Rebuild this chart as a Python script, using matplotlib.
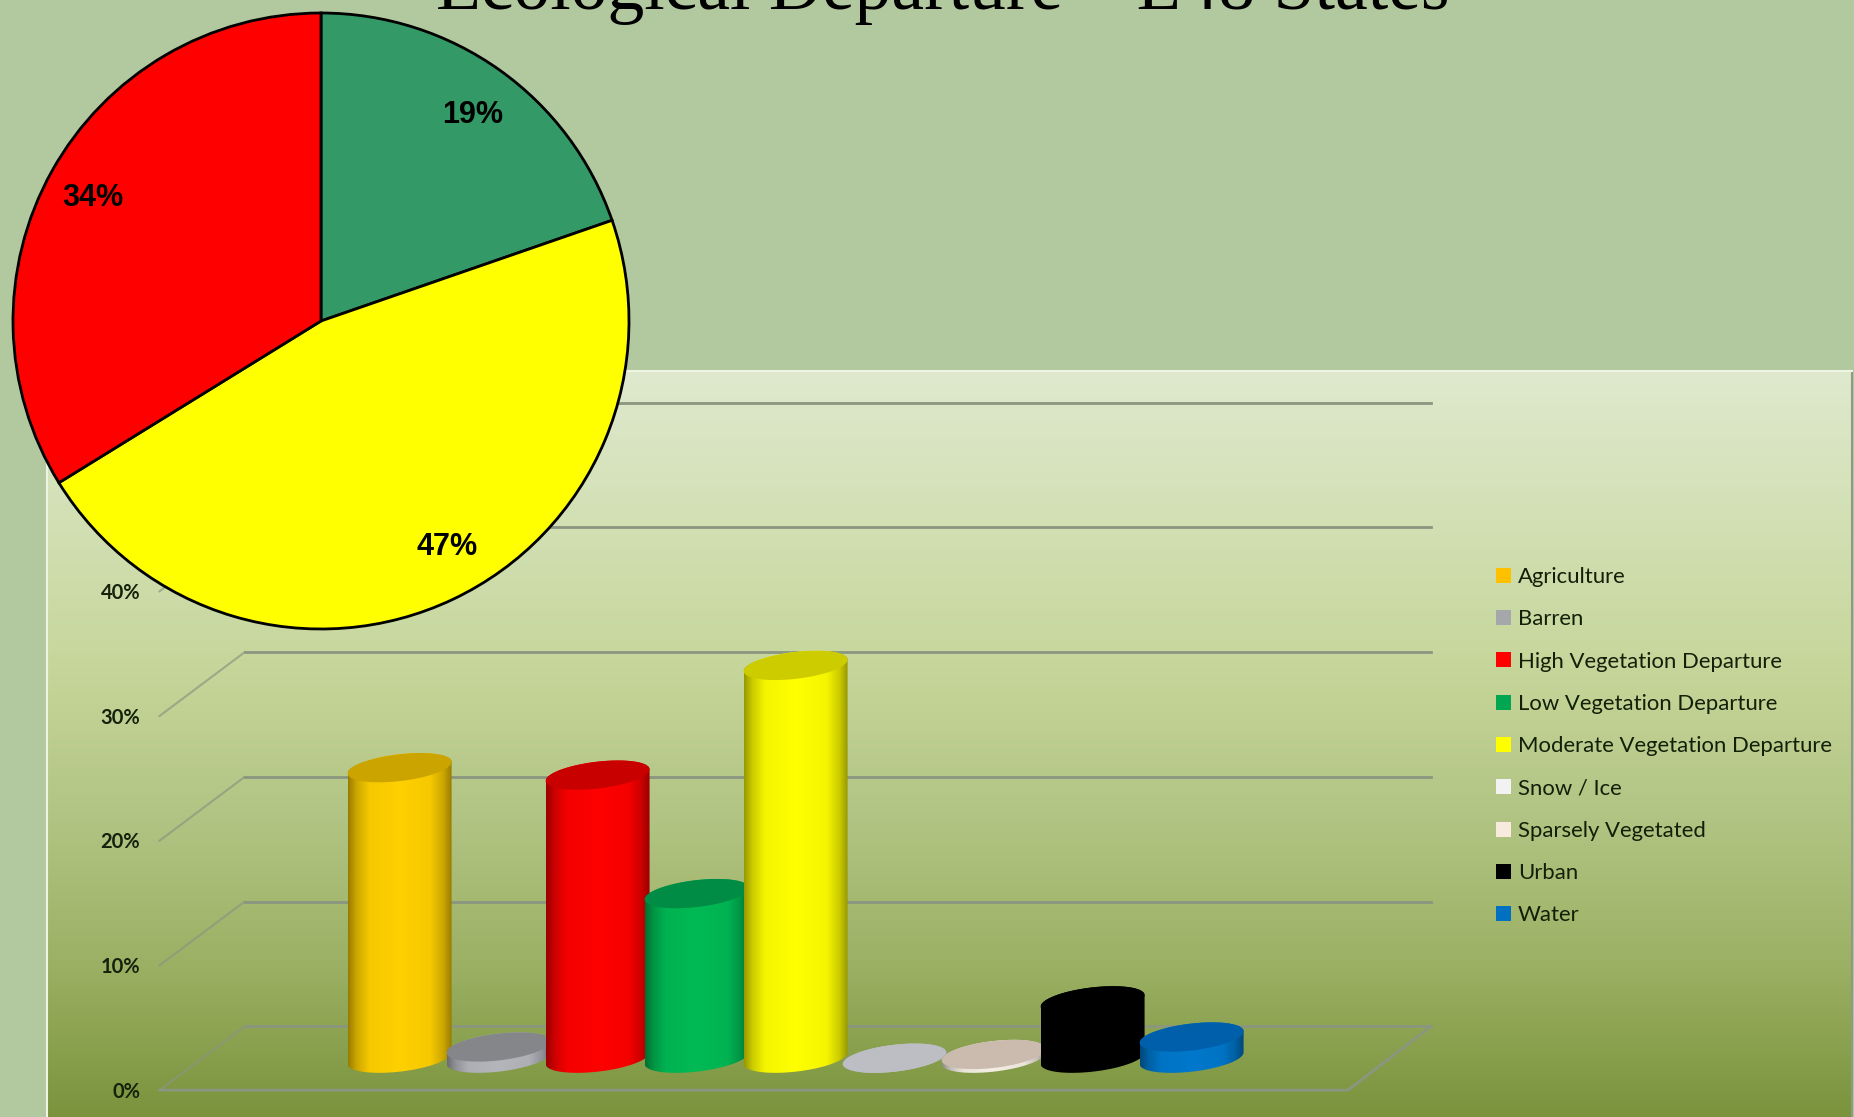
import numpy as np
import matplotlib
matplotlib.use("Agg")
import matplotlib.pyplot as plt
from matplotlib.patches import PathPatch, Patch
from matplotlib.path import Path
from matplotlib.colors import to_rgb

# pie data
pie_values = [19.7, 46.5, 33.8]
pie_labels = ["19%", "47%", "34%"]
pie_colors = ["#339966", "#FFFF00", "#FF0000"]

# bar data
categories = ["Agriculture", "Barren", "High Vegetation Departure", "Low Vegetation Departure",
              "Moderate Vegetation Departure", "Snow / Ice", "Sparsely Vegetated", "Urban", "Water"]
percents = [23.3, 0.9, 22.7, 13.2, 31.5, 0.0, 0.3, 4.6, 1.7]
side_colors = ["#FFD000", "#B4B6BC", "#FF0000", "#00BA55", "#FFFF00", "#C4C6CC", "#F4EEE4", "#000000", "#0078CC"]
top_colors = ["#CCA400", "#85868A", "#C80000", "#008C44", "#CCCC00", "#BDBEC4", "#CBBBAE", "#000000", "#005FAA"]
legend_colors = ["#FFC000", "#A5A7AB", "#FF0000", "#00A650", "#FFFF00", "#F2F2F2", "#F8EBDD", "#000000", "#0070C0"]
grid_ticks = [0, 10, 20, 30, 40, 50]

W, H = 1854, 1117
fig = plt.figure(figsize=(W / 100, H / 100), dpi=100, facecolor="#B2C99F")

# gradient panel behind the bars
panel_left, panel_top, panel_right = 47, 371, 1852
bg = fig.add_axes([panel_left / W, 0, (panel_right - panel_left) / W, (H - panel_top) / H])
stops = [0, 0.2, 0.4, 0.6, 0.8, 1]
stop_cols = np.array([to_rgb(c) for c in ["#DFE9CE", "#D2E0B4", "#C6D69A", "#B1C483", "#9BB063", "#7A933C"]])
t = np.linspace(0, 1, 400)
grad = np.stack([np.interp(t, stops, stop_cols[:, i]) for i in range(3)], axis=1)[:, None, :]
bg.imshow(grad, aspect="auto", extent=(0, 1, 0, 1))
bg.set_xticks([])
bg.set_yticks([])
bg.spines["bottom"].set_visible(False)
for side, col in [("top", "#EEF3E2"), ("left", "#EEF3E2"), ("right", "#8E9A84")]:
    bg.spines[side].set_color(col)
    bg.spines[side].set_linewidth(1.5)

# main axes, x is the category number and y the percent on the middle depth plane
x0_px, cat_px = 399.6, 99.0
y0_px, pct_px = 1058.2, 12.47
ax = fig.add_axes([0, 0, 1, 1])
ax.patch.set_alpha(0)
ax.axis("off")
xlim = (-x0_px / cat_px, (W - x0_px) / cat_px)
ylim = ((y0_px - H) / pct_px, y0_px / pct_px)

depth_y = 2.56
left_front, left_back = -2.425, -1.565
right_back, right_front = 10.42, 9.58
grid_col = "#8B9680"

for v in grid_ticks:
    ax.plot([left_front, left_back], [v - depth_y, v + depth_y], color=grid_col, lw=1.5, alpha=0.7)
    ax.plot([left_back, right_back], [v + depth_y, v + depth_y], color=grid_col, lw=2)
    ax.text(-2.62, v - depth_y - 0.12, f"{v}%", ha="right", va="center", fontsize=14.5, family="Lato",
            fontweight="bold", color="#15220C")
ax.plot([left_front, right_front, right_back], [-depth_y, -depth_y, depth_y], color=grid_col, lw=2)

# cylinders
half_w = 0.525
shear = 0.88
minor = 1.08


def ellipse_pts(cx, cy, start, stop):
    a = np.linspace(start, stop, 60)
    return cx + half_w * np.cos(a), cy + minor * np.sin(a) + shear * np.cos(a) * half_w


for i, val in enumerate(percents):
    # outline: lower half of the base, then upper half of the top
    bx, by = ellipse_pts(i, 0, np.pi, 2 * np.pi)
    tx, ty = ellipse_pts(i, val, 0, np.pi)
    verts = np.column_stack([np.r_[bx, tx], np.r_[by, ty]])
    verts = np.vstack([verts, verts[0]])
    body = PathPatch(Path(verts), transform=ax.transData, fc="none", ec="none")
    ax.add_patch(body)
    rgb = np.array(to_rgb(side_colors[i]))
    pos = np.linspace(0, 1, 100)
    shade = np.interp(pos, [0, 0.08, 0.2, 0.5, 0.8, 0.92, 1], [0.6, 0.8, 0.96, 1, 0.96, 0.8, 0.6])
    strip = (shade[:, None] * rgb)[None, :, :]
    im = ax.imshow(strip, aspect="auto", extent=(i - half_w, i + half_w, by.min() - 1, ty.max() + 1),
                   zorder=3 + i * 0.1)
    im.set_clip_path(body)
    # top face
    ex, ey = ellipse_pts(i, val, 0, 2 * np.pi)
    ax.fill(ex, ey, color=top_colors[i], lw=0, zorder=3.01 + i * 0.1)

ax.set_xlim(xlim)
ax.set_ylim(ylim)

# legend
handles = [Patch(fc=c, ec="none", label=n) for c, n in zip(legend_colors, categories)]
ax.legend(handles=handles, loc="upper left", bbox_to_anchor=(1496 / W, 1 - 567 / H),
          bbox_transform=fig.transFigure, frameon=False, prop={"family": "Lato", "size": 15.9},
          handlelength=0.66, handleheight=0.66, handletextpad=0.32, labelspacing=1.01, borderpad=0,
          borderaxespad=0, labelcolor="#122008")

# title is cut by the top of the slide
fig.text(943 / W, 1 - 9 / H, "Ecological Departure – L48 States", ha="center", va="baseline",
         family="Liberation Serif", fontsize=53, color="black")

# pie on top of everything
pie_ax = fig.add_axes([13 / W, 1 - 629 / H, 616 / W, 616 / H])
pie_ax.pie(pie_values, colors=pie_colors, startangle=90, counterclock=False,
           wedgeprops={"edgecolor": "black", "linewidth": 2, "clip_on": False})
pie_ax.set_xlim(-1, 1)
pie_ax.set_ylim(-1, 1)
for label, (lx, ly) in zip(pie_labels, [(0.492, 0.669), (0.408, -0.735), (-0.742, 0.400)]):
    pie_ax.text(lx, ly, label, ha="center", va="center", family="Liberation Sans", fontweight="bold",
                fontsize=22, color="black")

fig.savefig("out.png", dpi=100)
